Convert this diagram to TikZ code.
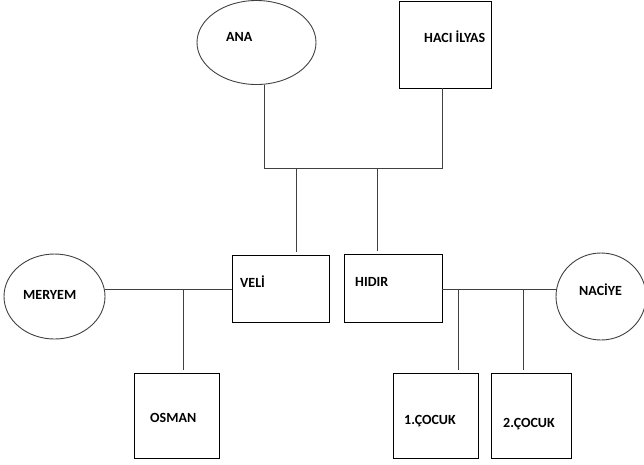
\documentclass[tikz,border=0pt]{standalone}
\usepackage{fontspec}
\setmainfont{Carlito}
\usetikzlibrary{shapes.geometric}

\begin{document}
\begin{tikzpicture}[x=1pt,y=-1pt,
  erkek/.style={rectangle,draw=black,line width=0.9pt,inner sep=0pt},
  kadin/.style={ellipse,draw=black!75,line width=0.9pt,inner sep=0pt},
  isim/.style={font=\fontsize{14}{16}\selectfont\bfseries,inner sep=0pt,anchor=base west},
  hat/.style={draw=black!75,line width=0.9pt},
  inis/.style={hat,shorten >=3pt}]

  \useasboundingbox (0,0) rectangle (644,464);

  % ebeveynler
  \node[kadin,minimum width=119,minimum height=84] (ana)  at (256.5,42.5) {};
  \node[erkek,minimum width=92,minimum height=87]  (haci) at (445,44.5)   {};

  % cocuklar
  \node[erkek,minimum width=97,minimum height=67] (veli)  at (280.5,288.5) {};
  \node[erkek,minimum width=98,minimum height=68] (hidir) at (393,288)     {};

  % esler
  \node[kadin,minimum width=101,minimum height=85] (meryem) at (54.5,296.5) {};
  \node[kadin,minimum width=90,minimum height=87]  (naciye) at (601,296.5)  {};

  % torunlar
  \node[erkek,minimum width=85,minimum height=85] (osman)  at (176.5,415.5) {};
  \node[erkek,minimum width=85,minimum height=85] (cocuk1) at (435.5,415.5) {};
  \node[erkek,minimum width=80,minimum height=85] (cocuk2) at (531,415.5)   {};

  % isimler
  \node[isim] (t-ana)    at (226,41.5)  {ANA};
  \node[isim] (t-haci)   at (424,42.5)  {HACI İLYAS};
  \node[isim] (t-veli)   at (240,287.5) {VELİ};
  \node[isim] (t-hidir)  at (355,286.5) {HIDIR};
  \node[isim] (t-meryem) at (23,299.5)  {MERYEM};
  \node[isim] (t-naciye) at (579,295.5) {NACİYE};
  \node[isim] (t-osman)  at (150,422.5) {OSMAN};
  \node[isim] (t-cocuk1) at (404,424.5) {1.ÇOCUK};
  \node[isim] (t-cocuk2) at (503,427.5) {2.ÇOCUK};

  % ANA - HACI ILYAS
  \coordinate (a1) at (264,168);
  \coordinate (a2) at (442,168);
  \coordinate (c1) at (296,168);
  \coordinate (c2) at (377,168);
  \draw[hat] (a1 |- ana.south) -- (a1) -- (a2) -- (a2 |- haci.south);
  \draw[inis] (c1) -- (c1 |- veli.north);
  \draw[inis] (c2) -- (c2 |- hidir.north);

  % MERYEM - VELI
  \coordinate (m1) at (183,289);
  \draw[hat] (meryem.east |- m1) -- (veli.west |- m1);
  \draw[inis] (m1) -- (m1 |- osman.north);

  % HIDIR - NACIYE
  \coordinate (n1) at (458,289);
  \coordinate (n2) at (523,289);
  \draw[hat] (hidir.east |- n1) -- (naciye.west |- n1);
  \draw[inis] (n1) -- (n1 |- cocuk1.north);
  \draw[inis] (n2) -- (n2 |- cocuk2.north);

\end{tikzpicture}
\end{document}
